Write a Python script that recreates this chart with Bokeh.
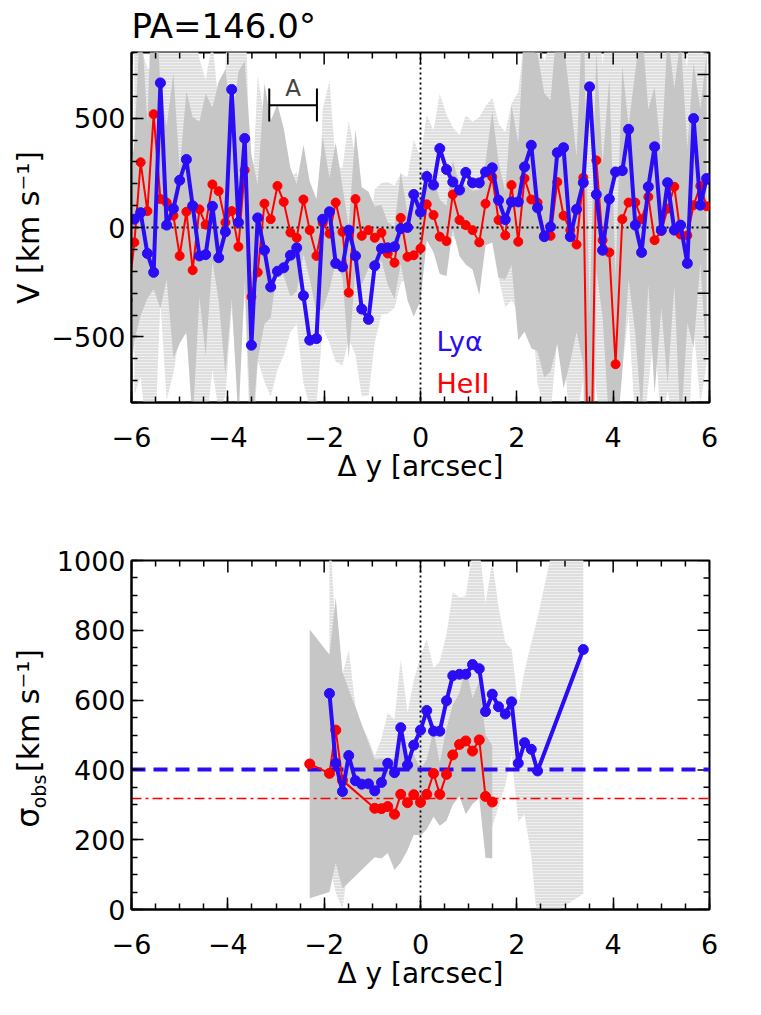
import numpy as np
import math
from bokeh.plotting import figure
from bokeh.models import Range1d, Label, SingleIntervalTicker, CustomJSTickFormatter
from bokeh.layouts import column, row
from bokeh.embed import file_html
from bokeh.resources import INLINE

FONT = "DejaVu Sans"
BLUE = "#2a0cf5"
RED = "#ff0000"
LIGHT = "#dedede"
DARK = "#c6c6c6"

# ---------------- data: velocity panel ----------------
x_v = [-5.94, -5.81, -5.67, -5.54, -5.40, -5.27, -5.13, -5.00, -4.86, -4.73,
       -4.59, -4.46, -4.32, -4.19, -4.05, -3.92, -3.78, -3.65, -3.51, -3.38,
       -3.24, -3.11, -2.97, -2.84, -2.70, -2.57, -2.43, -2.30, -2.16, -2.03,
       -1.89, -1.76, -1.62, -1.49, -1.35, -1.22, -1.08, -0.95, -0.81, -0.68,
       -0.54, -0.41, -0.27, -0.14, 0.00, 0.13, 0.27, 0.40, 0.54, 0.67,
       0.81, 0.94, 1.08, 1.22, 1.35, 1.49, 1.62, 1.76, 1.89, 2.03,
       2.16, 2.30, 2.43, 2.57, 2.70, 2.84, 2.97, 3.11, 3.24, 3.38,
       3.51, 3.65, 3.78, 3.92, 4.05, 4.19, 4.32, 4.46, 4.59, 4.73,
       4.86, 5.00, 5.13, 5.27, 5.40, 5.54, 5.67, 5.81, 5.94]

lya_v = [38, 68, -119, -205, 661, 11, 86, 216, 311, 99,
         -130, -124, 97, -138, -20, 631, 23, 407, -538, 44,
         -104, -272, -200, -184, -127, -93, -312, -515, -508, 38,
         72, -164, -180, -12, -130, -373, -420, -175, -96, -93,
         -88, -5, 0, 151, 70, 233, 194, 361, 265, 208,
         171, 252, 204, 204, 254, 273, 125, 36, 117, 117,
         277, 376, 90, -42, 3, 342, 365, -42, 83, 205,
         643, 151, -104, 130, 254, 260, 449, 11, -114, 186,
         369, -12, 205, -12, 11, -164, 498, 102, 224]

lya_v_err = [800, 750, 850, 900, 1000, 800, 750, 700, 800, 850, 900, 800, 750, 700, 750, 1000, 800, 700, 600, 650, 600, 500,
             450, 400, 350, 350, 400, 300, 300, 500, 600, 450, 450, 500, 450, 400, 350, 350, 300, 300, 280, 250, 230, 250, 250,
             280, 250, 250, 250, 250, 250, 260, 280, 300, 300, 320, 350, 400, 450, 500, 600, 700, 800, 800, 850, 850, 900,
             900, 950, 900, 1000, 900, 850, 900, 950, 900, 850, 900, 950, 900, 850, 900, 950, 900, 850, 900, 950, 900, 850]

x_v_heii = [-6.08] + x_v

heii_v = [-332,
          -68, 298, 75, 518, 130, 114, 54, -130, 72, -195,
          83, 13, 197, 166, 23, 75, -88, 262, -317, -205,
          109, 38, 190, 117, -23, -47, 128, -12, -130, 21,
          -28, 114, -20, -298, 130, -38, -12, -47, -24, -119,
          -161, 44, -134, -127, -96, 106, 57, -42, -62, 151,
          34, 11, -12, -68, 109, 231, 34, -36, 194, -65,
          224, 128, 114, -36, -38, 208, 54, -12, -78, 228,
          -1600, 307, -58, -114, -625, 38, 114, 114, 38, 140,
          -58, -16, 86, 186, -32, -36, 102, 190, 97]

heii_v_err = [500,
              450, 700, 400, 800, 500, 350, 650, 400, 550, 700, 400, 600, 350, 500, 700, 400, 800, 500, 650, 400, 550, 450,
              373, 337, 294, 246, 250, 222, 260, 393, 254, 274, 206, 300, 318, 222, 175, 143, 127, 143, 166, 210, 198, 281, 238,
              165, 170, 170, 160, 155, 165, 180, 180, 240, 190, 300, 265, 200, 365, 450, 700, 680, 680, 650, 620, 740, 790,
              600, 400, 850, 1200, 500, 350, 800, 400, 700, 350, 600, 900, 400, 700, 350, 800, 450, 900, 400, 650, 350, 700]

# ---------------- data: dispersion panel ----------------
x_s_lya = [-1.89, -1.76, -1.62, -1.49, -1.35, -1.22, -1.08, -0.95, -0.81, -0.68,
           -0.54, -0.41, -0.27, -0.14, 0.00, 0.13, 0.27, 0.40, 0.54, 0.67,
           0.81, 0.94, 1.08, 1.22, 1.35, 1.49, 1.62, 1.76, 1.89, 2.03,
           2.16, 2.30, 2.43, 3.38]
lya_s = [619, 419, 338, 441, 369, 359, 360, 340, 364, 419,
         392, 521, 414, 471, 514, 570, 511, 511, 598, 670,
         674, 674, 702, 690, 567, 617, 581, 560, 595, 419,
         478, 459, 397, 745]
lya_s_err = [490, 370, 335, 302, 214, 167, 128, 100, 126, 145,
             152, 195, 148, 186, 210, 205, 181, 200, 190, 238,
             220, 224, 324, 348, 310, 380, 286, 205, 152, 167,
             205, 305, 438, 700]

x_s_heii = [-2.30, -1.89, -1.76, -1.62, -0.95, -0.81, -0.68, -0.54, -0.41, -0.27,
            -0.14, 0.00, 0.13, 0.27, 0.40, 0.54, 0.67, 0.81, 0.94, 1.08,
            1.22, 1.35, 1.49]
heii_s = [417, 390, 514, 370, 290, 289, 295, 273, 330, 306,
          329, 307, 330, 390, 330, 387, 443, 473, 483, 454,
          486, 324, 308]
heii_s_err = [385, 340, 380, 310, 140, 143, 133, 160, 195, 136,
              115, 95, 100, 124, 90, 133, 143, 148, 210, 152,
              167, 176, 162]

lya_s_ref = 400      # blue dashed level
heii_s_ref = 317     # red dash-dot level
region_a = [-3.14, -2.15]      # extent of region "A"
region_a_v = [559, 485, 636]   # bar level, tick bottom, tick top
title_text = "PA=146.0\u00b0"

# ---------------- layout constants (pixels) ----------------
LABW = 48          # width of the strip holding the rotated y titles
MW = 705           # width of each main figure
FW = 578           # frame width
BL = 83            # left border of main figures
BR = MW - BL - FW
X_RANGE = (-6, 6)
TICK_FS = "27px"

fmt_code = "return (tick < 0 ? '\\u2212' : '') + Math.abs(tick).toFixed(0);"


def style(p, y_int, y_minor, yr, fh):
    p.grid.visible = False
    p.outline_line_color = "black"
    p.outline_line_width = 2
    xt = SingleIntervalTicker(interval=2, num_minor_ticks=4)
    yt = SingleIntervalTicker(interval=y_int, num_minor_ticks=y_minor)
    p.xaxis.ticker = xt
    p.yaxis.ticker = yt
    for ax in p.axis:
        ax.formatter = CustomJSTickFormatter(code=fmt_code)
        ax.axis_line_width = 2
        ax.axis_line_color = "black"
        ax.major_tick_in = 12
        ax.major_tick_out = 0
        ax.minor_tick_in = 6
        ax.minor_tick_out = 0
        ax.major_tick_line_width = 1.5
        ax.minor_tick_line_width = 1.5
        ax.major_label_text_font = FONT
        ax.major_label_text_font_size = TICK_FS
        ax.major_label_text_color = "black"
    p.xaxis.major_label_standoff = 24
    p.yaxis.major_label_standoff = 6
    p.xaxis.axis_label = "\u0394 y [arcsec]"
    p.xaxis.axis_label_text_font = FONT
    p.xaxis.axis_label_text_font_size = "28px"
    p.xaxis.axis_label_text_font_style = "normal"
    p.xaxis.axis_label_text_color = "black"
    p.xaxis.axis_label_standoff = 0
    # mirrored ticks on the top and right edges of the box
    y0, y1 = yr
    xmaj = list(range(X_RANGE[0], X_RANGE[1] + 1, 2))
    xmin = [X_RANGE[0] + 0.5 * k for k in range(int((X_RANGE[1] - X_RANGE[0]) / 0.5) + 1)]
    xmin = [t for t in xmin if t not in xmaj]
    dy = (y1 - y0) / fh
    p.segment(x0=xmaj, y0=[y1] * len(xmaj), x1=xmaj, y1=[y1 - 12 * dy] * len(xmaj), line_color="black", line_width=1.5)
    p.segment(x0=xmin, y0=[y1] * len(xmin), x1=xmin, y1=[y1 - 6 * dy] * len(xmin), line_color="black", line_width=1.5)
    ymaj = [y0 + y_int * k for k in range(int((y1 - y0) // y_int) + 1) if y0 + y_int * k <= y1]
    ystep = y_int / y_minor
    ymin = [y0 + ystep * k for k in range(int((y1 - y0) // ystep) + 1)]
    ymin = [t for t in ymin if t not in ymaj and t <= y1]
    dx = (X_RANGE[1] - X_RANGE[0]) / FW
    xe = X_RANGE[1]
    p.segment(x0=[xe] * len(ymaj), y0=ymaj, x1=[xe - 12 * dx] * len(ymaj), y1=ymaj, line_color="black", line_width=1.5)
    p.segment(x0=[xe] * len(ymin), y0=ymin, x1=[xe - 6 * dx] * len(ymin), y1=ymin, line_color="black", line_width=1.5)


def label_strip(height, yr, pieces):
    """narrow figure (its frame is aligned with the neighbouring plot frame) holding a
    rotated y title built from pieces: (text, size px, centre x px, centre y in data units)"""
    f = figure(width=LABW, height=height, x_range=Range1d(0, LABW), y_range=Range1d(*yr),
               x_axis_type=None, y_axis_type=None, min_border=0, toolbar_location=None,
               output_backend="svg")
    f.outline_line_color = None
    f.grid.visible = False
    for text, size, cx, cy in pieces:
        f.add_layout(Label(x=cx, y=cy, text=text, angle=math.pi / 2,
                           text_font=FONT, text_font_size=f"{size}px", text_align="center",
                           text_baseline="middle", text_color="black"))
    return f


# ---------------- top panel ----------------
TOP_B, FH1, BOT_B = 52, 350, 100
H1 = TOP_B + FH1 + BOT_B
YR1 = (-800, 800)
p1 = figure(width=MW, height=H1, x_range=Range1d(*X_RANGE), y_range=Range1d(*YR1),
            output_backend="svg", toolbar_location=None, title=title_text,
            min_border_left=BL, min_border_right=BR, min_border_top=TOP_B, min_border_bottom=BOT_B)
p1.title.text_font = FONT
p1.title.text_font_size = "34px"
p1.title.text_font_style = "normal"
p1.title.text_color = "black"
p1.title.align = "left"
p1.title.vertical_align = "top"
p1.title.standoff = 10

lv = np.array(lya_v, float)
le = np.array(lya_v_err, float)
hv = np.array(heii_v, float)
he = np.array(heii_v_err, float)
p1.varea(x=x_v, y1=lv - le, y2=lv + le, fill_color=LIGHT,
         hatch_pattern="horizontal_line", hatch_color="white", hatch_alpha=0.55, hatch_scale=3, hatch_weight=1)
p1.varea(x=x_v_heii, y1=hv - he, y2=hv + he, fill_color=DARK)
style(p1, 500, 5, YR1, FH1)
p1.hspan(y=[0], line_color="black", line_dash="2 3", line_width=1.8)
p1.vspan(x=[0], line_color="black", line_dash="2 3", line_width=1.8)
p1.line(x_v_heii, heii_v, line_color=RED, line_width=2)
p1.scatter(x_v_heii, heii_v, size=9, color=RED)
p1.line(x_v, lya_v, line_color=BLUE, line_width=4)
p1.scatter(x_v, lya_v, size=10, color=BLUE)

p1.segment(x0=[region_a[0], region_a[0], region_a[1]], y0=[region_a_v[0], region_a_v[1], region_a_v[1]],
           x1=[region_a[1], region_a[0], region_a[1]], y1=[region_a_v[0], region_a_v[2], region_a_v[2]],
           line_color="black", line_width=2)
v_per_px = (YR1[1] - YR1[0]) / FH1
p1.add_layout(Label(x=sum(region_a) / 2, y=region_a_v[2], text="A", text_font=FONT,
                    text_font_size="23px", text_align="center", text_baseline="middle"))
p1.add_layout(Label(x=0, y=YR1[0] + 61 * v_per_px, x_offset=16, text="Ly\u03b1", text_font=FONT,
                    text_font_size="27px", text_color=BLUE, text_baseline="alphabetic"))
p1.add_layout(Label(x=0, y=YR1[0] + 19 * v_per_px, x_offset=16, text="HeII", text_font=FONT,
                    text_font_size="27px", text_color=RED, text_baseline="alphabetic"))

lab1 = label_strip(H1, YR1, [("V [km s\u207b\u00b9]", 30, 28, 0)])

# ---------------- bottom panel ----------------
TOP_B2, FH2, BOT_B2 = 58, 349, 98
H2 = TOP_B2 + FH2 + BOT_B2
YR2 = (0, 1000)
p2 = figure(width=MW, height=H2, x_range=Range1d(*X_RANGE), y_range=Range1d(*YR2),
            output_backend="svg", toolbar_location=None,
            min_border_left=BL, min_border_right=BR, min_border_top=TOP_B2, min_border_bottom=BOT_B2)

ls = np.array(lya_s, float)
lse = np.array(lya_s_err, float)
hs = np.array(heii_s, float)
hse = np.array(heii_s_err, float)
p2.varea(x=x_s_lya, y1=ls - lse, y2=ls + lse, fill_color=LIGHT,
         hatch_pattern="horizontal_line", hatch_color="white", hatch_alpha=0.55, hatch_scale=3, hatch_weight=1)
p2.varea(x=x_s_heii, y1=hs - hse, y2=hs + hse, fill_color=DARK)
style(p2, 200, 4, YR2, FH2)
p2.vspan(x=[0], line_color="black", line_dash="2 3", line_width=1.8)
p2.hspan(y=[lya_s_ref], line_color=BLUE, line_dash="14 8", line_width=4)
p2.hspan(y=[heii_s_ref], line_color=RED, line_dash="10 4 3 4", line_width=1.5)
p2.line(x_s_heii, heii_s, line_color=RED, line_width=2)
p2.scatter(x_s_heii, heii_s, size=10, color=RED)
p2.line(x_s_lya, lya_s, line_color=BLUE, line_width=4)
p2.scatter(x_s_lya, lya_s, size=10, color=BLUE)

s_per_px = (YR2[1] - YR2[0]) / FH2
lab2 = label_strip(H2, YR2, [("\u03c3", 32, 27, 92 * s_per_px), ("obs", 19, 38, 118 * s_per_px),
                             ("[km s\u207b\u00b9]", 30, 28, 199 * s_per_px)])

layout = column(row(lab1, p1), row(lab2, p2))
open("out.html", "w").write(file_html(layout, INLINE))
